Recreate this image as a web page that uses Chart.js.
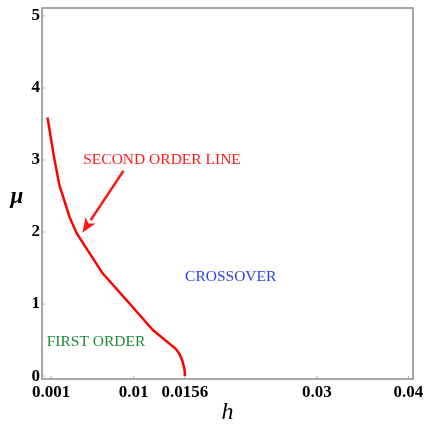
<!DOCTYPE html>
<html>
<head>
<meta charset="utf-8">
<script src="https://cdn.jsdelivr.net/npm/chart.js@4"></script>
<style>
  html, body { margin: 0; padding: 0; background: #fff; }
  #wrap { width: 426px; height: 427px; }
</style>
</head>
<body>
<div id="wrap"><canvas id="phase"></canvas></div>
<script>
// second order line, mu as a function of h
const hValues  = [0.0006, 0.0013, 0.0019, 0.0030, 0.0038, 0.0066, 0.0103, 0.0121, 0.0146, 0.0150, 0.0153, 0.01548, 0.01558, 0.0156];
const muValues = [3.59,   3.05,   2.65,   2.21,   1.98,   1.43,   0.90,   0.64,   0.38,   0.31,   0.22,   0.14,    0.07,    0];

const xTicks = [0.001, 0.01, 0.0156, 0.03, 0.04];
const yTicks = [0, 1, 2, 3, 4, 5];

const noteText = ['SECOND ORDER LINE', 'CROSSOVER', 'FIRST ORDER'];
const noteH    = [0.0131, 0.0206, 0.0059];
const noteMu   = [3.0, 1.38, 0.47];
const noteColor = ['#ff1a1a', '#2b3fe6', '#1f8a3a'];

const arrowFrom = [0.0089, 2.85];
const arrowTo   = [0.0044, 1.99];

const serif = "'Liberation Serif', 'DejaVu Serif', serif";

const decor = {
  id: 'decor',
  afterDraw(chart) {
    const { ctx, chartArea: a, scales: { x, y } } = chart;
    ctx.save();
    // frame
    ctx.strokeStyle = '#8a8a8a';
    ctx.lineWidth = 1.5;
    ctx.strokeRect(a.left, a.top, a.right - a.left, a.bottom - a.top);

    // small inward ticks
    ctx.lineWidth = 1;
    ctx.strokeStyle = '#b0b0b0';
    yTicks.forEach(v => {
      const py = y.getPixelForValue(v);
      ctx.beginPath(); ctx.moveTo(a.left, py); ctx.lineTo(a.left + 3, py); ctx.stroke();
    });
    xTicks.forEach(v => {
      const px = x.getPixelForValue(v);
      ctx.beginPath(); ctx.moveTo(px, a.bottom); ctx.lineTo(px, a.bottom - 3); ctx.stroke();
    });

    // region labels
    ctx.font = '15.5px ' + serif;
    ctx.textAlign = 'center';
    ctx.textBaseline = 'middle';
    noteText.forEach((t, i) => {
      ctx.fillStyle = noteColor[i];
      ctx.fillText(t, x.getPixelForValue(noteH[i]), y.getPixelForValue(noteMu[i]));
    });

    // arrow pointing at the line
    const x0 = x.getPixelForValue(arrowFrom[0]), y0 = y.getPixelForValue(arrowFrom[1]);
    const x1 = x.getPixelForValue(arrowTo[0]),   y1 = y.getPixelForValue(arrowTo[1]);
    const ang = Math.atan2(y1 - y0, x1 - x0);
    const head = 15, wing = 6;
    const bx = x1 - head * Math.cos(ang), by = y1 - head * Math.sin(ang);
    ctx.strokeStyle = '#ff1a1a';
    ctx.fillStyle = '#ff1a1a';
    ctx.lineWidth = 2.5;
    ctx.beginPath(); ctx.moveTo(x0, y0); ctx.lineTo(bx, by); ctx.stroke();
    ctx.beginPath();
    ctx.moveTo(x1, y1);
    ctx.lineTo(bx + wing * Math.sin(ang), by - wing * Math.cos(ang));
    ctx.lineTo(bx + 4 * Math.cos(ang), by + 4 * Math.sin(ang));
    ctx.lineTo(bx - wing * Math.sin(ang), by + wing * Math.cos(ang));
    ctx.closePath();
    ctx.fill();

    // axis titles
    ctx.fillStyle = '#000';
    ctx.font = 'italic 24px ' + serif;
    ctx.fillText('h', (a.left + a.right) / 2, a.bottom + 34);
    ctx.font = 'italic bold 23px ' + serif;
    ctx.fillText('μ', 17, (a.top + a.bottom) / 2 + 4);
    ctx.restore();
  }
};

new Chart(document.getElementById('phase'), {
  type: 'line',
  data: {
    datasets: [{
      data: hValues.map((h, i) => ({ x: h, y: muValues[i] })),
      borderColor: '#ff0000',
      borderWidth: 2.5,
      pointRadius: 0,
      tension: 0,
      fill: false
    }]
  },
  options: {
    responsive: true,
    maintainAspectRatio: false,
    animation: false,
    layout: { padding: { top: 8, right: 13, left: 0, bottom: 0 } },
    plugins: { legend: { display: false }, tooltip: { enabled: false } },
    scales: {
      x: {
        type: 'linear',
        min: 0,
        max: 0.0405,
        afterBuildTicks: s => { s.ticks = xTicks.map(v => ({ value: v })); },
        afterFit: s => { s.height = 48; s.paddingLeft = 0; s.paddingRight = 0; },
        grid: { display: false, drawTicks: false },
        border: { display: false },
        ticks: {
          autoSkip: false,
          maxRotation: 0,
          padding: 3,
          color: '#000',
          font: { family: serif, size: 17, weight: 'bold' },
          callback: v => String(v)
        }
      },
      y: {
        min: -0.04,
        max: 5.11,
        afterBuildTicks: s => { s.ticks = yTicks.map(v => ({ value: v })); },
        afterFit: s => { s.width = 42; s.paddingTop = 0; s.paddingBottom = 0; },
        grid: { display: false, drawTicks: false },
        border: { display: false },
        ticks: {
          padding: 2,
          color: '#000',
          font: { family: serif, size: 17, weight: 'bold' }
        }
      }
    }
  },
  plugins: [decor]
});
</script>
</body>
</html>
